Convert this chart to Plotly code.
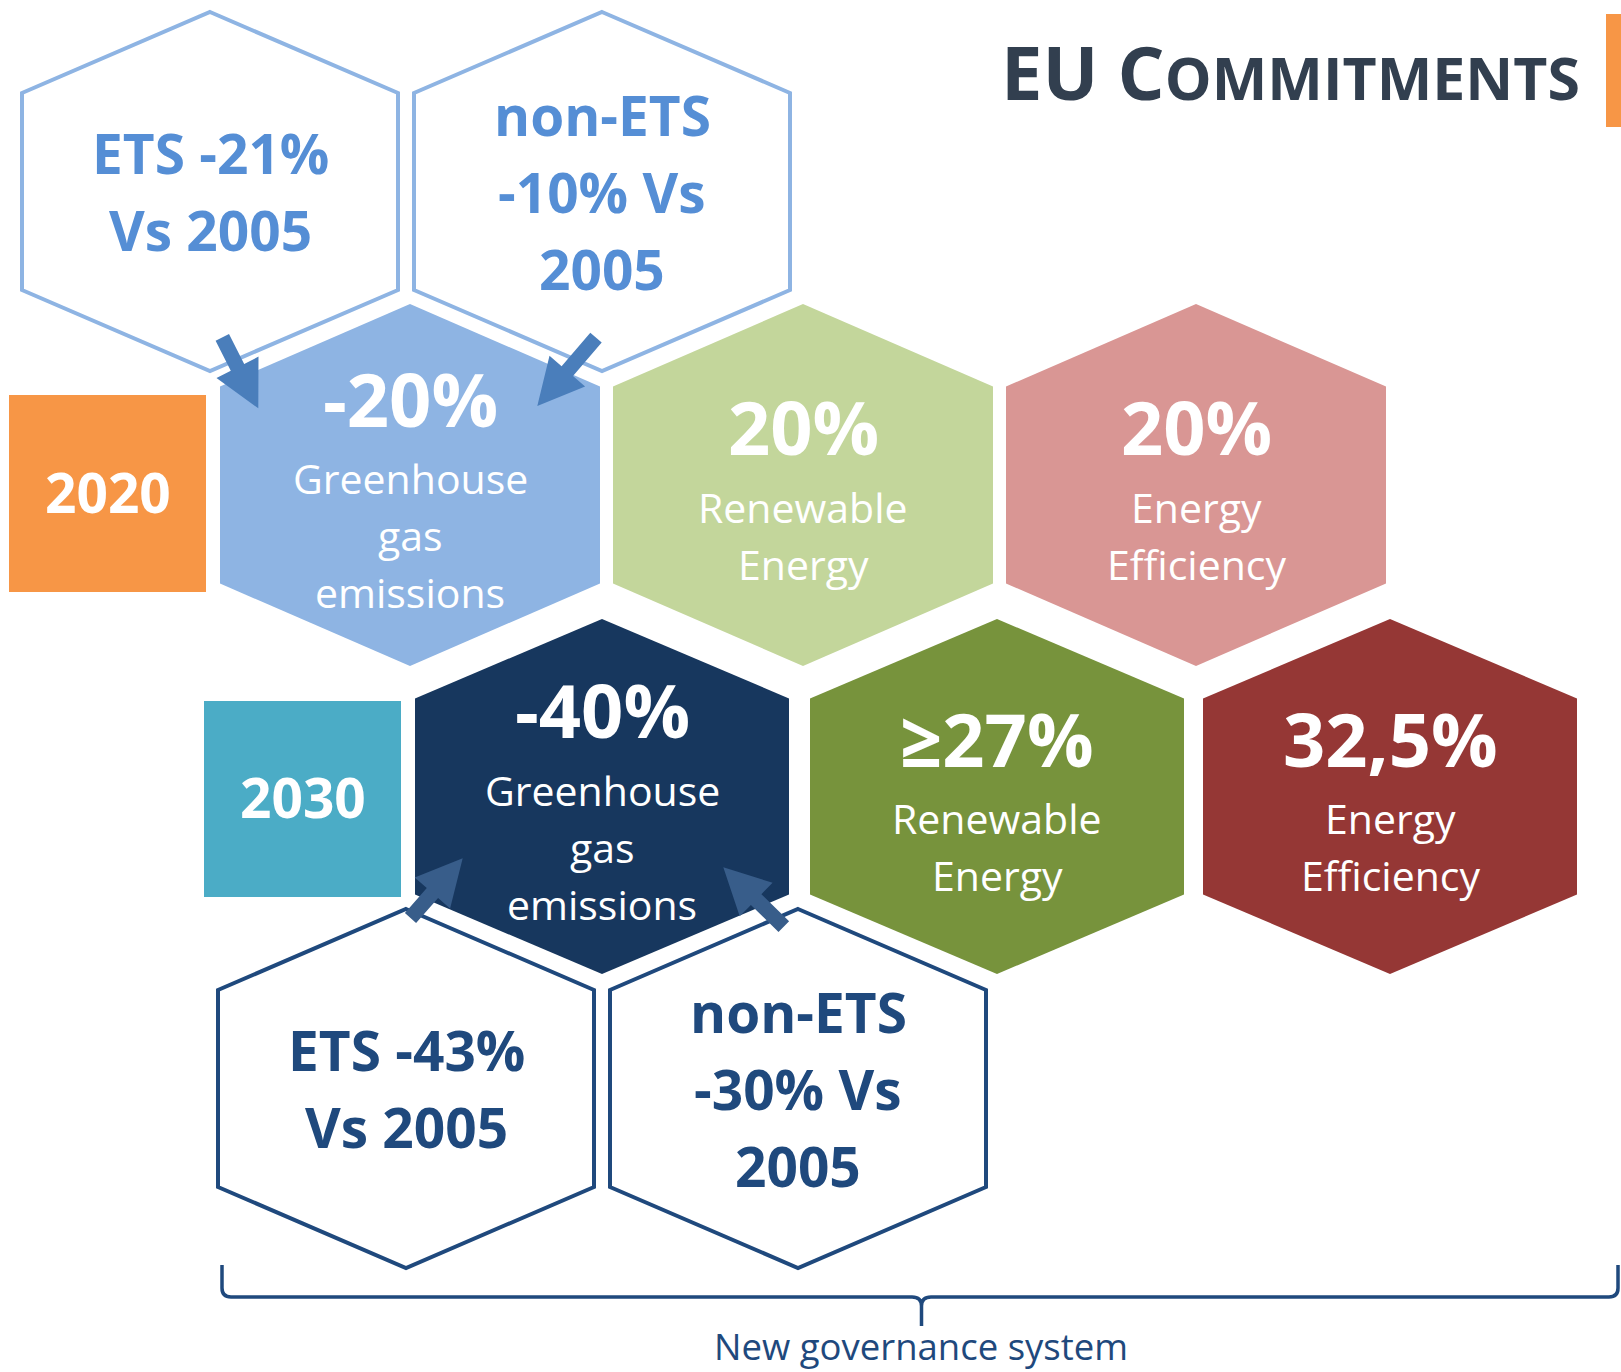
import math
import plotly.graph_objects as go

# ------------------------------------------------------------------ data
title_caps = ["E", "U", " ", "C"]
title_rest = "OMMITMENTS"
years = ["2020", "2030"]
headline_values = ["-20%", "20%", "20%", "-40%", "\u226527%", "32,5%"]
headline_labels = [
    ["Greenhouse", "gas", "emissions"],
    ["Renewable", "Energy"],
    ["Energy", "Efficiency"],
    ["Greenhouse", "gas", "emissions"],
    ["Renewable", "Energy"],
    ["Energy", "Efficiency"],
]
headline_year = ["2020", "2020", "2020", "2030", "2030", "2030"]
split_targets = [
    ["ETS -21%", "Vs 2005"],
    ["non-ETS", "-10% Vs", "2005"],
    ["ETS -43%", "Vs 2005"],
    ["non-ETS", "-30% Vs", "2005"],
]
split_year = ["2020", "2020", "2030", "2030"]
footer_text = "New governance system"

# ------------------------------------------------------------------ styles / layout
W, H = 1621, 1372
FONT = "Open Sans, Carlito, Calibri, sans-serif"
year_colors = {"2020": "#F79646", "2030": "#4BACC6"}
headline_colors = ["#8EB4E3", "#C3D69B", "#D99694", "#17375E", "#77933C", "#953735"]
split_line_color = {"2020": "#8EB4E3", "2030": "#1F497D"}
split_text_color = {"2020": "#558ED5", "2030": "#1F497D"}
arrow_color = {"2020": "#4A7EBB", "2030": "#385D8A"}
TEXT_DY = -2.5  # small global vertical nudge for text

# honeycomb geometry (pixel space of the page)
row_y = {"top": 191.5, "2020": 485.0, "2030": 796.5, "bottom": 1088.5}
headline_cx = [410, 803, 1196, 602, 997, 1390]
headline_size = {"2020": (190, 181, 98.5), "2030": (187, 177.5, 98)}
split_cx = [210, 602, 406, 798]
split_row = ["top", "top", "bottom", "bottom"]
year_boxes = {"2020": (9, 395, 206, 592), "2030": (204, 701, 401, 897)}
arrows = [  # (tail, tip, year)
    ((222.3, 337.3), (258.3, 408.3), "2020"),
    ((596.0, 337.7), (537.3, 406.0), "2020"),
    ((410.5, 918.0), (462.7, 858.3), "2030"),
    ((783.8, 926.7), (723.3, 867.3), "2030"),
]


def hex_path(cx, cy, a, b, s):
    pts = [(cx, cy - b), (cx + a, cy - s), (cx + a, cy + s),
           (cx, cy + b), (cx - a, cy + s), (cx - a, cy - s)]
    return "M " + " L ".join(f"{x:.1f},{y:.1f}" for x, y in pts) + " Z"


def arrow_path(tail, tip, shaft=15.0, head_w=47.0, head_l=46.0):
    (x0, y0), (x1, y1) = tail, tip
    dx, dy = x1 - x0, y1 - y0
    L = math.hypot(dx, dy)
    ux, uy = dx / L, dy / L
    px, py = -uy, ux
    bx, by = x1 - ux * head_l, y1 - uy * head_l
    pts = [
        (x0 + px * shaft / 2, y0 + py * shaft / 2),
        (bx + px * shaft / 2, by + py * shaft / 2),
        (bx + px * head_w / 2, by + py * head_w / 2),
        (x1, y1),
        (bx - px * head_w / 2, by - py * head_w / 2),
        (bx - px * shaft / 2, by - py * shaft / 2),
        (x0 - px * shaft / 2, y0 - py * shaft / 2),
    ]
    return "M " + " L ".join(f"{x:.1f},{y:.1f}" for x, y in pts) + " Z"


shapes = []
annotations = []


def add_text(x, y, text, size, color, bold=False, xanchor="center"):
    annotations.append(dict(
        x=x, y=y + TEXT_DY, xref="x", yref="y", text=text, showarrow=False,
        xanchor=xanchor, yanchor="middle",
        font=dict(family=FONT, size=size, color=color,
                  weight=700 if bold else 400),
    ))


# outline (split target) hexagons
for lines, yr, cx, rk in zip(split_targets, split_year, split_cx, split_row):
    cy = row_y[rk]
    shapes.append(dict(type="path", xref="x", yref="y",
                       path=hex_path(cx, cy, 188, 179.5, 98.5),
                       line=dict(color=split_line_color[yr], width=4),
                       fillcolor="rgba(0,0,0,0)"))
    n = len(lines)
    mid = cy + 2
    for i, t in enumerate(lines):
        add_text(cx, mid + (i - (n - 1) / 2) * 77, t, 55,
                 split_text_color[yr], bold=True)

# filled headline hexagons
for val, labs, yr, col, cx in zip(headline_values, headline_labels,
                                  headline_year, headline_colors, headline_cx):
    cy = row_y[yr]
    a, b, s = headline_size[yr]
    shapes.append(dict(type="path", xref="x", yref="y",
                       path=hex_path(cx, cy, a, b, s),
                       line=dict(width=0), fillcolor=col))
    total = 80 + 57 * (len(labs) - 1)
    top = cy + 12.5 - total / 2
    add_text(cx, top, val, 74, "white", bold=True)
    for i, t in enumerate(labs):
        add_text(cx, top + 80 + 57 * i, t, 41, "white")

# year boxes
for yr in years:
    x0, y0, x1, y1 = year_boxes[yr]
    shapes.append(dict(type="rect", xref="x", yref="y", x0=x0, y0=y0,
                       x1=x1, y1=y1, line=dict(width=0),
                       fillcolor=year_colors[yr]))
    add_text((x0 + x1) / 2, (y0 + y1) / 2, yr, 55, "white", bold=True)

# arrows
for tail, tip, yr in arrows:
    shapes.append(dict(type="path", xref="x", yref="y",
                       path=arrow_path(tail, tip), line=dict(width=0),
                       fillcolor=arrow_color[yr]))

# curly bracket
brace = ("M 222,1265 L 222,1288 Q 222,1297 231,1297 L 912,1297 "
         "Q 921.5,1297 921.5,1306 L 921.5,1326 M 921.5,1306 "
         "Q 921.5,1297 931,1297 L 1609,1297 Q 1618,1297 1618,1288 L 1618,1265")
shapes.append(dict(type="path", xref="x", yref="y", path=brace,
                   line=dict(color="#1F497D", width=3.5)))
add_text(921, 1348, footer_text, 36.5, "#1F497D")

# title + orange tab
title_html = (f"{''.join(title_caps)}"
              f"<span style='font-size:59px'>{title_rest}</span>")
add_text(1582, 73.5, title_html, 74, "#323F4F", bold=True, xanchor="right")
shapes.append(dict(type="rect", xref="x", yref="y", x0=1606, y0=14,
                   x1=1625, y1=127, line=dict(width=0), fillcolor="#F79646"))

fig = go.Figure()
fig.update_layout(
    width=W, height=H,
    margin=dict(l=0, r=0, t=0, b=0, pad=0),
    paper_bgcolor="white", plot_bgcolor="white",
    xaxis=dict(range=[0, W], visible=False, fixedrange=True),
    yaxis=dict(range=[H, 0], visible=False, fixedrange=True),
    shapes=shapes, annotations=annotations, showlegend=False,
)
fig.write_html("out.html", config={"displayModeBar": False},
               post_script="document.body.style.margin='0';"
                           "document.body.style.overflow='hidden';")
